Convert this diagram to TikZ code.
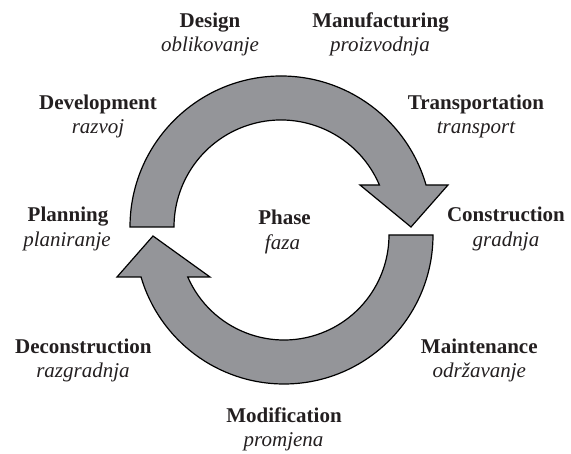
\documentclass[tikz,border=0pt]{standalone}
\usepackage{fontspec}
\setmainfont{Liberation Serif}
\definecolor{arrowgray}{RGB}{148,149,153}
\definecolor{txt}{RGB}{35,31,32}
\tikzset{
  cyc/.style={fill=arrowgray, draw=black, line width=1.2pt, line join=miter},
  en/.style={anchor=base, inner sep=0pt, text=txt, font=\fontsize{21}{25}\selectfont\bfseries},
  hr/.style={anchor=base, inner sep=0pt, text=txt, font=\fontsize{21}{25}\selectfont\itshape},
}
\begin{document}
\begin{tikzpicture}[x=1pt,y=1pt]
\useasboundingbox (0,0) rectangle (571,454);
% upper arrow (centre 281,227)
\draw[cyc] (130,227) arc[start angle=180, end angle={asin(42/151)}, radius=151]
  -- (448,269) -- (411,227) -- (360,269)
  -- ({281+sqrt(107*107-42*42)},269) arc[start angle={asin(42/107)}, end angle=180, radius=107]
  -- cycle;
% lower arrow (centre 284,219)
\draw[cyc] (433,219) arc[start angle=0, end angle={-180+asin(42/149)}, radius=149]
  -- (117,177) -- (153,218) -- (210,177)
  -- ({284-sqrt(105*105-42*42)},177) arc[start angle={-180+asin(42/105)}, end angle=0, radius=105]
  -- cycle;
% labels
\node[en] (des) at (210,426.7) {Design};
\node[hr] (desh) at (210,402.3) {oblikovanje};
\node[en] (man) at (380.5,426.7) {Manufacturing};
\node[hr] (manh) at (380,402.3) {proizvodnja};
\node[en] (dev) at (98,344.5) {Development};
\node[hr] (devh) at (98,320) {razvoj};
\node[en] (tra) at (476,344.5) {Transportation};
\node[hr] (trah) at (476,320) {transport};
\node[en] (pla) at (68,232) {Planning};
\node[hr] (plah) at (67,207.5) {planiranje};
\node[en] (pha) at (284.5,229) {Phase};
\node[hr] (phah) at (282.5,204.5) {faza};
\node[en] (con) at (506,232) {Construction};
\node[hr] (conh) at (506,207.5) {gradnja};
\node[en] (dec) at (83.4,100.7) {Deconstruction};
\node[hr] (dech) at (83,76.3) {razgradnja};
\node[en] (mai) at (479.3,100.7) {Maintenance};
\node[hr] (maih) at (479.4,76.3) {održavanje};
\node[en] (mod) at (284,31.3) {Modification};
\node[hr] (modh) at (283.6,7.3) {promjena};
\end{tikzpicture}
\end{document}
